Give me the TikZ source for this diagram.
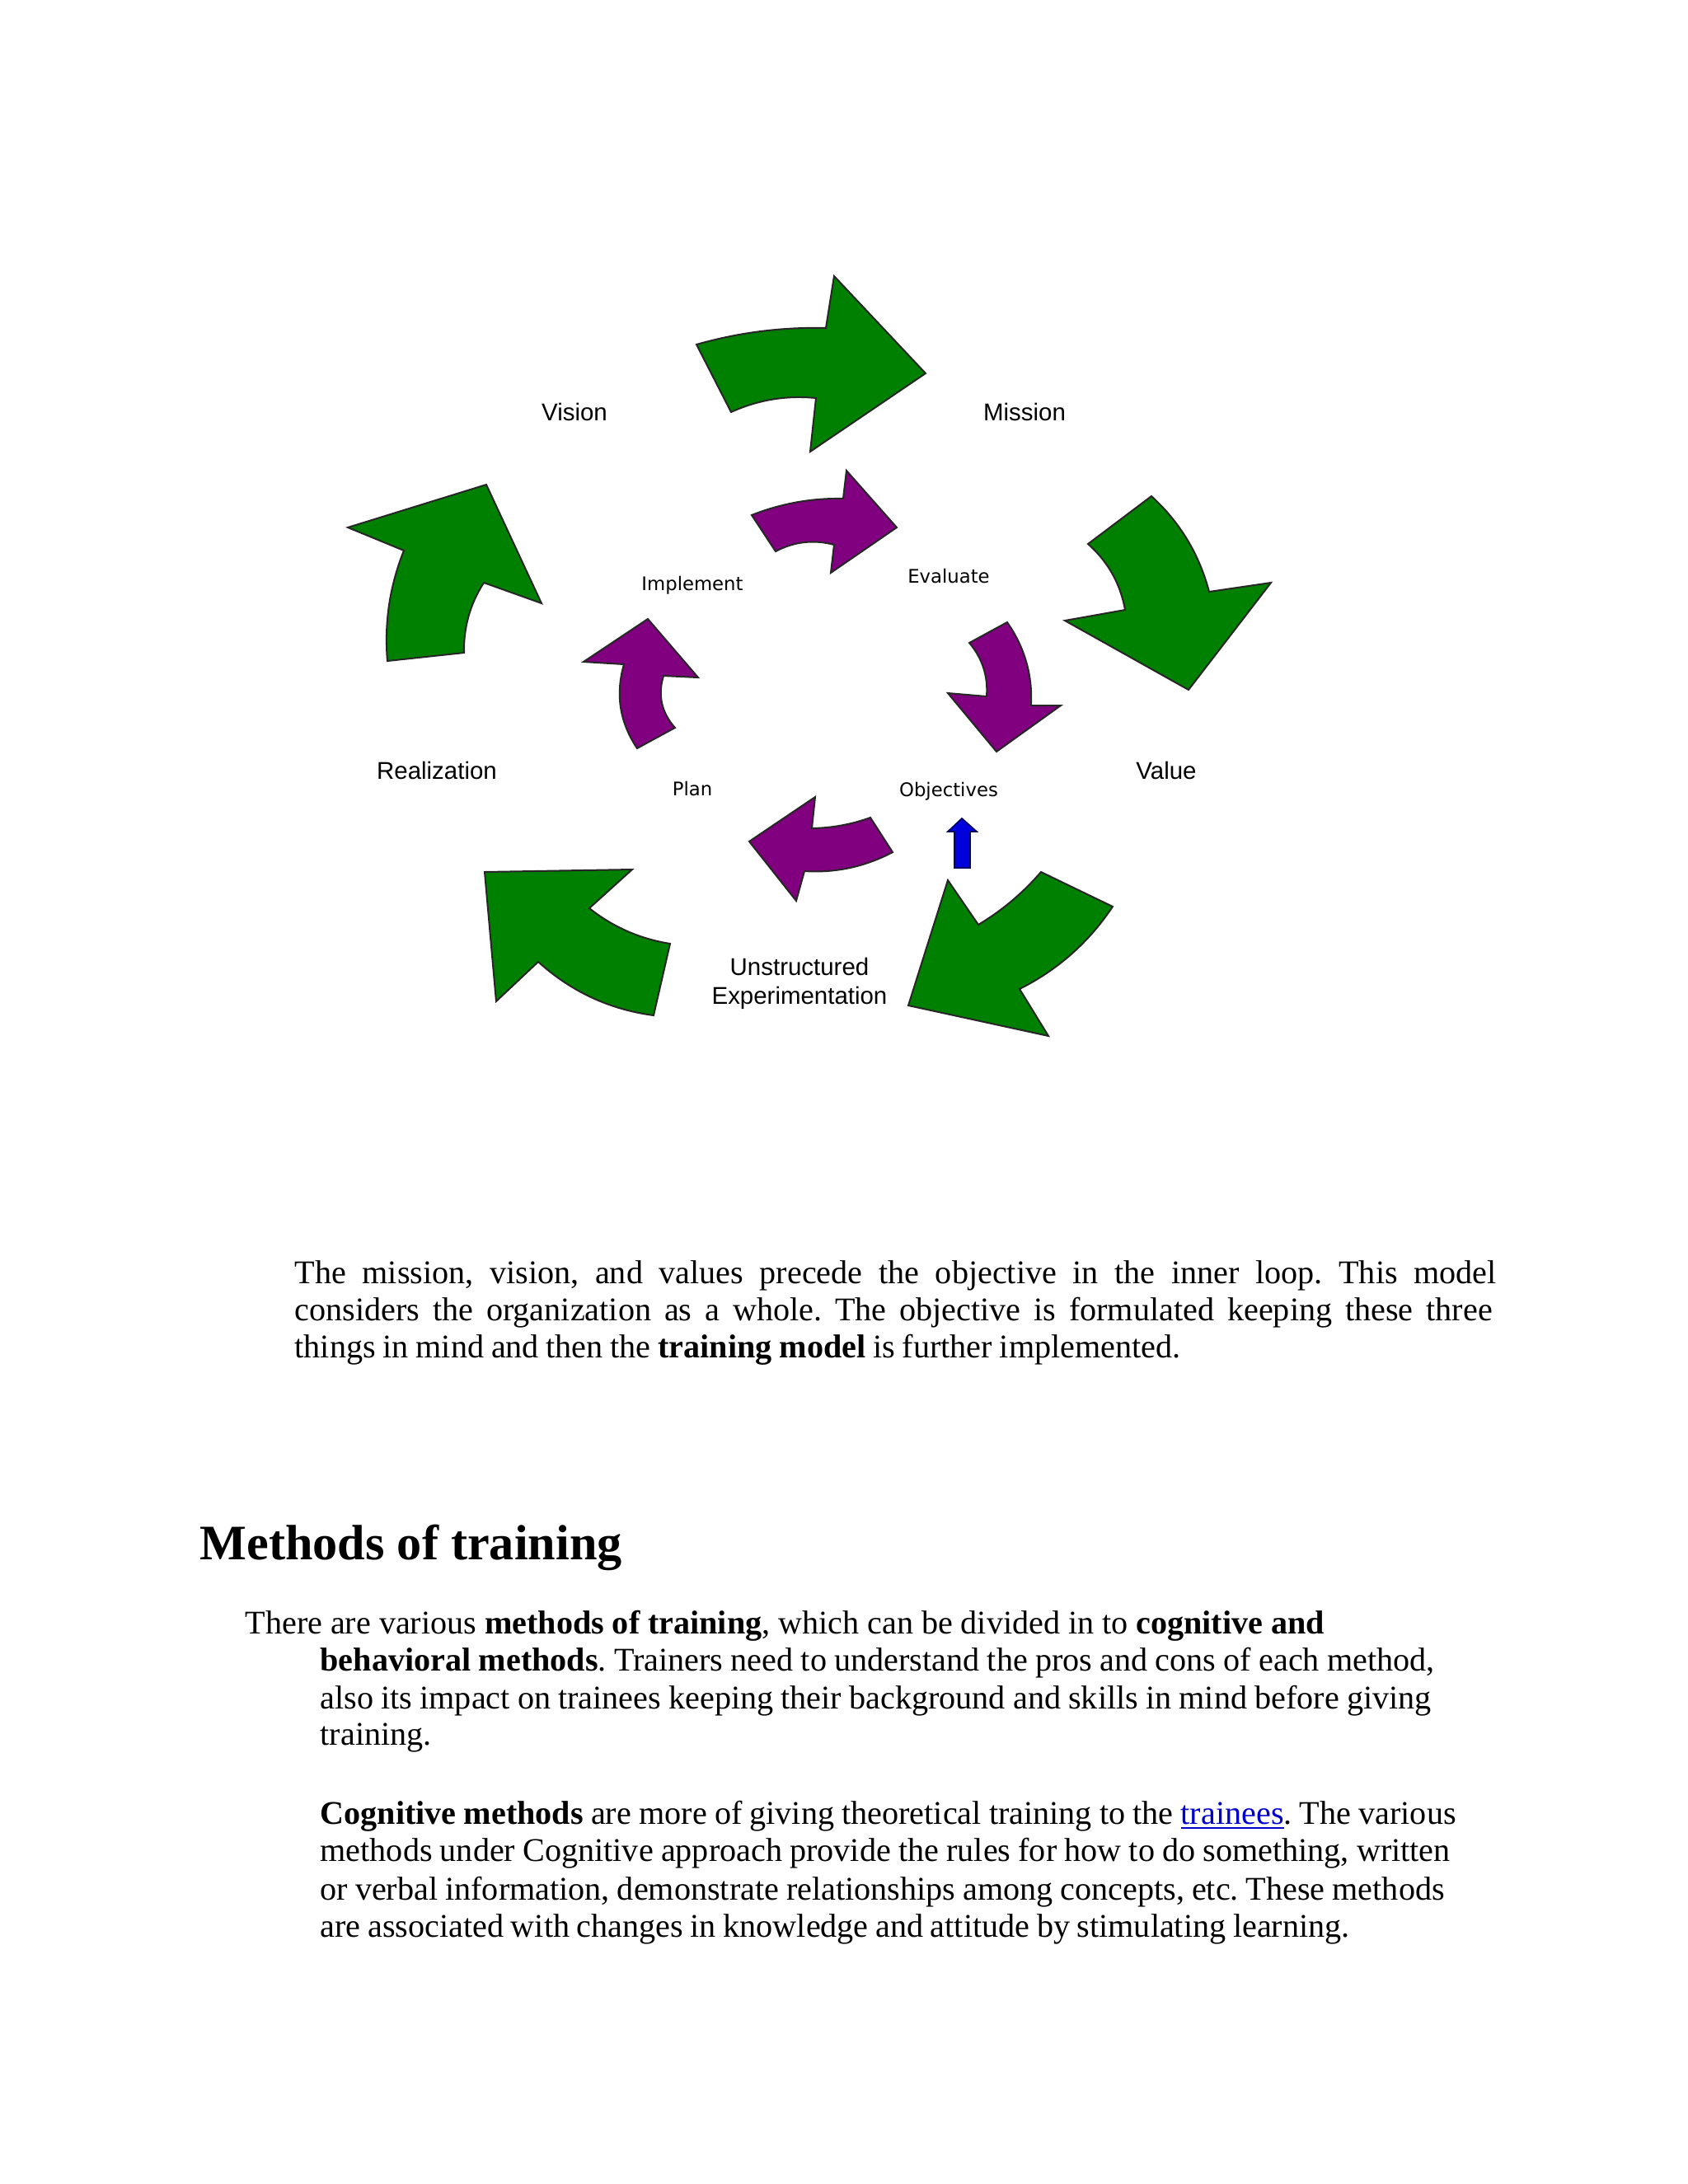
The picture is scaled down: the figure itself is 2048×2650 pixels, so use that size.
\documentclass[tikz,border=0pt]{standalone}
\usepackage{fontspec}
\setmainfont{Liberation Serif}
\newfontfamily\outerfont{Liberation Sans}
\newfontfamily\innerfont{DejaVu Sans}
\definecolor{arrgreen}{RGB}{0,128,0}
\definecolor{arrpurple}{RGB}{128,0,128}
\definecolor{arrblue}{RGB}{0,0,220}
\definecolor{linkblue}{RGB}{0,0,204}
\newcommand{\jline}[5]{\node[bodyline] (#1) at (#2,#3) {\makebox[#4][s]{#5}};}
\frenchspacing
\begin{document}
\begin{tikzpicture}[x=0.298828pt,y=-0.298828pt,
  greenarrow/.style={fill=arrgreen, draw=black!85, line width=0.6pt, line join=miter},
  purplearrow/.style={fill=arrpurple, draw=black!85, line width=0.6pt, line join=miter},
  bluearrow/.style={fill=arrblue, draw=blue!40!black, line width=0.5pt},
  outerlab/.style={font=\outerfont\fontsize{8.8}{10.5}\selectfont, inner sep=0pt, anchor=base},
  innerlab/.style={font=\innerfont\fontsize{6.8}{8}\selectfont, inner sep=0pt, anchor=base},
  bodyline/.style={font=\fontsize{12}{14}\selectfont\frenchspacing, inner sep=0pt, anchor=base west},
  headline/.style={font=\fontsize{18}{21}\selectfont\bfseries, inner sep=0pt, anchor=base west}]
\useasboundingbox[fill=white] (0,0) rectangle (2048,2650);

% ---- outer green arrows ----
\draw[greenarrow] (845,418) .. controls (896.3,403.4) and (948.7,396.7) .. (1002,398) -- (1012,335) -- (1123,453) -- (983,548) -- (990,483) .. controls (954.2,479.4) and (919.9,485.1) .. (887,500) -- cycle;
\draw[greenarrow] (1397,602) .. controls (1431.7,633.8) and (1455.1,672.5) .. (1467,718) -- (1542,707) -- (1442,837) -- (1292,753) -- (1365,740) .. controls (1359.3,708.1) and (1344.3,681.5) .. (1320,660) -- cycle;
\draw[greenarrow] (1263,1058) -- (1350,1100) .. controls (1321.1,1143.3) and (1283.5,1176.7) .. (1237,1200) -- (1272,1257) -- (1102,1220) -- (1150,1068) -- (1187,1122) .. controls (1215.8,1104.7) and (1241.1,1083.4) .. cycle;
\draw[greenarrow] (588,1058) -- (767,1055) -- (715,1102) .. controls (743.9,1124.9) and (776.6,1139.2) .. (813,1145) -- (793,1232) .. controls (739.6,1224.9) and (692.9,1203.2) .. (653,1167) -- (602,1215) -- cycle;
\draw[greenarrow] (422,640) -- (590,588) -- (657,732) -- (587,707) .. controls (570.4,732.9) and (562.4,761.2) .. (563,792) -- (470,802) .. controls (466.1,755.7) and (472.8,711.1) .. (490,668) -- cycle;

% ---- inner purple arrows ----
\draw[purplearrow] (912,625) .. controls (947.6,610.9) and (984.6,604.2) .. (1023,605) -- (1027,571) -- (1088,640) -- (1008,695) -- (1012,661) .. controls (987.3,654.4) and (963.7,657.1) .. (941,669) -- cycle;
\draw[purplearrow] (1222,755) .. controls (1243.2,785.4) and (1252.9,819.1) .. (1251,856) -- (1287,856) -- (1209,912) -- (1150,841) -- (1197,845) .. controls (1198.9,820.5) and (1191.9,798.8) .. (1176,780) -- cycle;
\draw[purplearrow] (1056,992) -- (1083,1034) .. controls (1049.5,1051.7) and (1013.8,1059.4) .. (976,1057) -- (966,1093) -- (909,1021) -- (989,967) -- (985,1005) .. controls (1009.4,1004.6) and (1033.1,1000.3) .. cycle;
\draw[purplearrow] (773,908) .. controls (751.8,876.5) and (746.5,842.5) .. (757,806) -- (708,803) -- (786,751) -- (847,822) -- (805,820) .. controls (797.9,843.6) and (802.6,864.6) .. (819,883) -- cycle;

% ---- small blue arrow ----
\draw[bluearrow] (1167,993) -- (1185,1009) -- (1177,1009) -- (1177,1053) -- (1158,1053) -- (1158,1009) -- (1150,1009) -- cycle;

% ---- labels ----
\node[outerlab] (vision) at (697,510) {Vision};
\node[outerlab] (mission) at (1243,510) {Mission};
\node[outerlab] (realization) at (530,945) {Realization};
\node[outerlab] (value) at (1415,945) {Value};
\node[outerlab] (unstr) at (970,1183) {Unstructured};
\node[outerlab] (exper) at (970,1218) {Experimentation};
\node[innerlab] (implement) at (840,716) {Implement};
\node[innerlab] (evaluate) at (1151,707) {Evaluate};
\node[innerlab] (plan) at (840,965) {Plan};
\node[innerlab] (objectives) at (1151,966) {Objectives};

% ---- body text ----
\jline{pa}{357}{1557}{435.7pt}{The mission, vision, and values precede the objective in the inner loop. This model}
\jline{pb}{357}{1602}{434.2pt}{considers the organization as a whole. The objective is formulated keeping these three}
\jline{pc}{357}{1647}{321.2pt}{things in mind and then the \textbf{training model} is further implemented.}

\node[headline] (heading) at (242,1892) {Methods of training};

\jline{qa}{297}{1982}{391.2pt}{There are various \textbf{methods of training}, which can be divided in to \textbf{cognitive and}}
\jline{qb}{388}{2027}{404.0pt}{\textbf{behavioral methods}. Trainers need to understand the pros and cons of each method,}
\jline{qc}{388}{2073}{402.8pt}{also its impact on trainees keeping their background and skills in mind before giving}
\node[bodyline] (qd) at (388,2117) {training.};

\jline{ra}{388}{2213}{411.8pt}{\textbf{Cognitive methods} are more of giving theoretical training to the \textcolor{linkblue}{\underline{trainees}}. The various}
\jline{rb}{388}{2258}{409.7pt}{methods under Cognitive approach provide the rules for how to do something, written}
\jline{rc}{388}{2305}{407.6pt}{or verbal information, demonstrate relationships among concepts, etc. These methods}
\jline{rd}{388}{2350}{373.2pt}{are associated with changes in knowledge and attitude by stimulating learning.}
\end{tikzpicture}
\end{document}
